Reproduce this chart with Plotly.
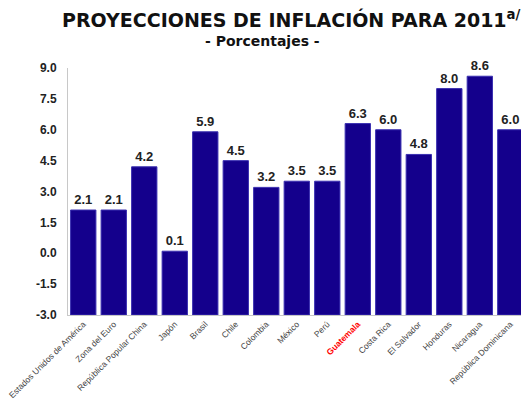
import plotly.graph_objects as go

countries = ["Estados Unidos de América", "Zona del Euro", "República Popular China", "Japón",
             "Brasil", "Chile", "Colombia", "México", "Perú", "Guatemala", "Costa Rica",
             "El Salvador", "Honduras", "Nicaragua", "República Dominicana"]
values = [2.1, 2.1, 4.2, 0.1, 5.9, 4.5, 3.2, 3.5, 3.5, 6.3, 6.0, 4.8, 8.0, 8.6, 6.0]
y_ticks = [-3.0, -1.5, 0.0, 1.5, 3.0, 4.5, 6.0, 7.5, 9.0]
base_value = -3.0

tick_text = [
    f"<span style='color:#ff0000'><b>{c}</b></span>" if c == "Guatemala" else c
    for c in countries
]

L, R, T, B = 68, 0, 68, 97
W, H = 521, 412
pw, ph = W - L - R, H - T - B

def px2paper(px, py):
    return (px - L) / pw, 1 + (T - py) / ph

fig = go.Figure()
fig.add_trace(go.Bar(
    x=list(range(len(countries))),
    y=[v - base_value for v in values],
    base=base_value,
    marker=dict(color="#14008c", line=dict(color="#3a2fb0", width=1)),
    text=[f"<b>{v:.1f}</b>" for v in values],
    textposition="outside",
    textfont=dict(family="Arial", size=13, color="#222222"),
    cliponaxis=False,
    hoverinfo="skip",
))

tx, ty = px2paper(291, 19)
sx, sy = px2paper(262, 41)
fig.update_layout(
    width=W, height=H,
    margin=dict(l=L, r=R, t=T, b=B, autoexpand=False),
    paper_bgcolor="white", plot_bgcolor="white",
    bargap=0.17,
    showlegend=False,
    font=dict(family="Arial"),
    annotations=[
        dict(text="<b>PROYECCIONES DE INFLACIÓN PARA 2011<sup>a/</sup></b>",
             x=tx, y=ty, xref="paper", yref="paper", showarrow=False,
             xanchor="center", yanchor="middle",
             font=dict(size=19, color="#111111", family="DejaVu Sans")),
        dict(text="<b>- Porcentajes -</b>",
             x=sx, y=sy, xref="paper", yref="paper", showarrow=False,
             xanchor="center", yanchor="middle",
             font=dict(size=14, color="#111111", family="DejaVu Sans")),
    ],
)

fig.update_xaxes(
    range=[-0.5, 14.35],
    tickmode="array",
    tickvals=list(range(len(countries))),
    ticktext=tick_text,
    tickangle=-45,
    tickfont=dict(family="Arial", size=8.5, color="#444444"),
    showgrid=False, zeroline=False,
    showline=True, linecolor="#c8c8c8", linewidth=1,
    ticks="", automargin=False,
)
fig.update_yaxes(
    range=[-3.0, 9.0],
    tickmode="array",
    tickvals=y_ticks,
    ticktext=[f"<b>{t:.1f}</b>" for t in y_ticks],
    tickfont=dict(family="Arial", size=12, color="#222222"),
    showgrid=False, zeroline=False,
    showline=True, linecolor="#c8c8c8", linewidth=1,
    ticks="", ticklabelstandoff=8, automargin=False,
)

fig.write_html("out.html", config={"displayModeBar": False},
               post_script="document.body.style.margin='0';")
